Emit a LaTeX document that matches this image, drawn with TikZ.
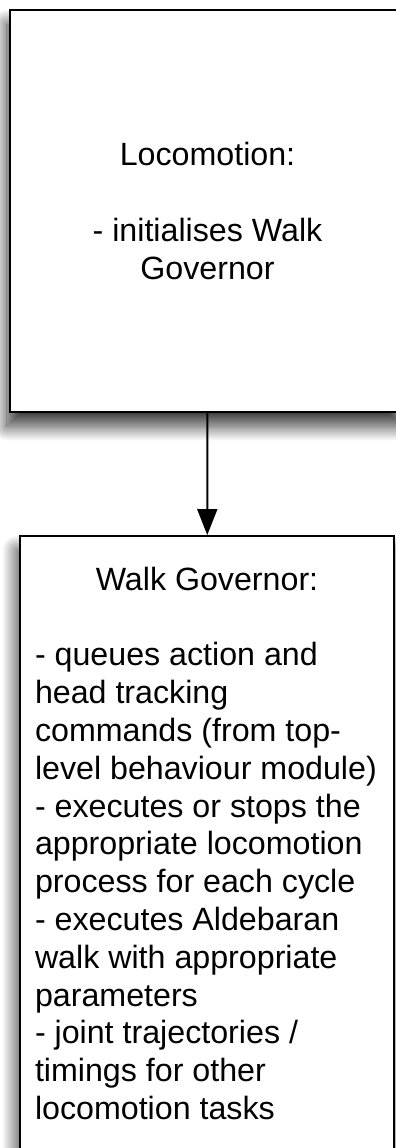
\documentclass[tikz,border=0pt]{standalone}
\usepackage{fontspec}
\setmainfont{Liberation Sans}
\usepackage{tikz}
\usetikzlibrary{arrows.meta, positioning, shadows.blur}

\tikzset{
  govbox/.style={
    draw=black,
    fill=white,
    line width=2pt,
    inner xsep=15pt,
    font=\fontsize{32.2pt}{37.8pt}\selectfont,
    blur shadow={shadow xshift=-3pt, shadow yshift=-14pt,
      shadow blur radius=15pt, shadow blur steps=25, shadow opacity=80}
  }
}

\begin{document}
\begin{tikzpicture}
\useasboundingbox (0pt,0pt) rectangle (396pt,-1148pt);

\node[
  govbox,
  minimum width=395pt,
  minimum height=402pt,
  align=center
] (locomotion) at (207.5pt,-211pt) {Locomotion:\\[37.8pt]- initialises Walk\\Governor};

\node[
  govbox,
  anchor=north,
  inner ysep=31pt
] (walkgov) at (207pt,-535pt) {
\begin{minipage}[t][620pt][t]{344pt}
\centering
Walk Governor:

\vspace{\baselineskip}

\raggedright
- queues action and\\
head tracking\\
commands (from top-\\
level behaviour module)\\
- executes or stops the\\
appropriate locomotion\\
process for each cycle\\
- executes Aldebaran\\
walk with appropriate\\
parameters\\
- joint trajectories /\\
timings for other\\
locomotion tasks
\end{minipage}
};

\draw[line width=2pt, -{Triangle[width=20pt,length=26pt]}] (locomotion) -- (walkgov);
\end{tikzpicture}
\end{document}
